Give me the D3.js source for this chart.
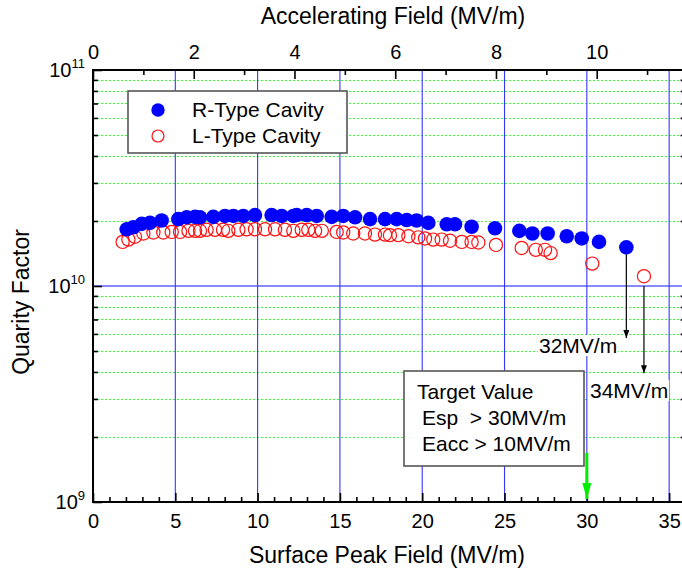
<!DOCTYPE html>
<html>
<head>
<meta charset="utf-8">
<script src="https://cdn.jsdelivr.net/npm/d3@7"></script>
<style>
body { margin: 0; background: #fff; }
text { font-family: "Liberation Sans", Arial, sans-serif; fill: #000; }
</style>
</head>
<body>
<svg id="chart" width="682" height="575"></svg>
<script>
// R-type cavity (filled blue)
var rEsp = [2.05, 2.45, 2.96, 3.46, 4.17, 5.18, 5.69, 6.2, 6.5, 7.31, 8.02, 8.53, 9.13, 9.84, 10.85, 11.46, 12.17, 12.37, 12.98, 13.59, 14.5, 15.2, 15.92, 16.83, 17.74, 18.45, 19.06, 19.66, 20.37, 21.49, 21.99, 23.0, 24.42, 25.9, 26.69, 27.62, 28.78, 29.69, 30.74, 32.4];
var rQ = [1.83e10, 1.87e10, 1.94e10, 1.96e10, 2.01e10, 2.04e10, 2.08e10, 2.09e10, 2.08e10, 2.09e10, 2.11e10, 2.11e10, 2.11e10, 2.13e10, 2.13e10, 2.11e10, 2.11e10, 2.13e10, 2.13e10, 2.11e10, 2.09e10, 2.11e10, 2.08e10, 2.04e10, 2.04e10, 2.04e10, 2.02e10, 2.01e10, 1.96e10, 1.93e10, 1.93e10, 1.88e10, 1.85e10, 1.80e10, 1.75e10, 1.75e10, 1.70e10, 1.66e10, 1.60e10, 1.51e10];

// L-type cavity (open red)
var lEsp = [1.8, 2.15, 2.55, 3.06, 3.67, 4.27, 4.78, 5.29, 5.8, 6.2, 6.5, 6.9, 7.41, 7.9, 8.22, 8.83, 9.33, 9.84, 10.45, 11.06, 11.66, 12.17, 12.68, 13.08, 13.49, 13.9, 14.8, 15.2, 15.81, 16.52, 17.13, 17.74, 18.04, 18.55, 19.16, 19.76, 20.17, 20.67, 21.18, 21.69, 22.4, 23.0, 23.41, 24.48, 26.04, 26.9, 27.46, 27.8, 30.33, 33.47];
var lQ = [1.60e10, 1.64e10, 1.69e10, 1.75e10, 1.77e10, 1.77e10, 1.78e10, 1.78e10, 1.80e10, 1.80e10, 1.80e10, 1.82e10, 1.82e10, 1.82e10, 1.80e10, 1.82e10, 1.83e10, 1.83e10, 1.83e10, 1.83e10, 1.82e10, 1.80e10, 1.82e10, 1.82e10, 1.80e10, 1.80e10, 1.78e10, 1.77e10, 1.75e10, 1.75e10, 1.73e10, 1.73e10, 1.72e10, 1.72e10, 1.70e10, 1.68e10, 1.66e10, 1.64e10, 1.64e10, 1.62e10, 1.60e10, 1.60e10, 1.59e10, 1.55e10, 1.50e10, 1.47e10, 1.47e10, 1.42e10, 1.27e10, 1.11e10];

var espTicks = [0, 5, 10, 15, 20, 25, 30, 35];
var eaccTicks = [0, 2, 4, 6, 8, 10];
var qTicks = [1e9, 1e10, 1e11];
var qExp = ["9", "10", "11"];
var eaccRatio = 3.06;   // Esp / Eacc

var seriesNames = ["R-Type Cavity", "L-Type Cavity"];
var targetLines = ["Target Value", "Esp  > 30MV/m", "Eacc > 10MV/m"];
var limitLabels = ["32MV/m", "34MV/m"];
var limitEsp = [32.4, 33.47];
var limitFrom = [1.40e10, 1.00e10];
var limitTo = [5.74e9, 3.95e9];
var targetEsp = 30;

var svg = d3.select("#chart");

var x = d3.scaleLinear().domain([0, 36]).range([93, 685.6]);
var xTop = d3.scaleLinear().domain([0, 36 / eaccRatio]).range([93, 685.6]);
var y = d3.scaleLog().domain([1e9, 1e11]).range([502, 70]);

var defs = svg.append("defs");
defs.append("marker").attr("id", "headBlack")
    .attr("viewBox", "0 0 10 10").attr("refX", 10).attr("refY", 5)
    .attr("markerUnits", "userSpaceOnUse").attr("markerWidth", 8).attr("markerHeight", 6)
    .attr("preserveAspectRatio", "none").attr("orient", "auto")
  .append("path").attr("d", "M0,0L10,5L0,10Z").attr("fill", "#000");
defs.append("marker").attr("id", "headGreen")
    .attr("viewBox", "0 0 10 10").attr("refX", 10).attr("refY", 5)
    .attr("markerUnits", "userSpaceOnUse").attr("markerWidth", 16).attr("markerHeight", 9)
    .attr("preserveAspectRatio", "none").attr("orient", "auto")
  .append("path").attr("d", "M0,0L10,5L0,10Z").attr("fill", "#00ee00");

// grid
var minorQ = y.ticks().filter(function(d) { return qTicks.indexOf(d) < 0; });
svg.append("g").selectAll("line").data(minorQ).enter().append("line")
    .attr("x1", x(0)).attr("x2", x(36))
    .attr("y1", function(d) { return Math.round(y(d)) + 0.5; })
    .attr("y2", function(d) { return Math.round(y(d)) + 0.5; })
    .style("stroke", "#33ff33").style("stroke-dasharray", "2,2");
svg.append("line")
    .attr("x1", x(0)).attr("x2", x(36)).attr("y1", y(1e10)).attr("y2", y(1e10))
    .style("stroke", "#1515ff").style("stroke-width", 1.2);
svg.append("g").selectAll("line").data(espTicks.slice(1)).enter().append("line")
    .attr("x1", function(d) { return x(d); }).attr("x2", function(d) { return x(d); })
    .attr("y1", y(1e11)).attr("y2", y(1e9))
    .style("stroke", "#3535ff").style("stroke-width", 1.1);

// data
svg.append("g").selectAll("circle").data(lEsp).enter().append("circle")
    .attr("cx", function(d) { return x(d); })
    .attr("cy", function(d, i) { return y(lQ[i]); })
    .attr("r", 6.6)
    .style("fill", "none").style("stroke", "#ff1010").style("stroke-width", 1.2);
svg.append("g").selectAll("circle").data(rEsp).enter().append("circle")
    .attr("cx", function(d) { return x(d); })
    .attr("cy", function(d, i) { return y(rQ[i]); })
    .attr("r", 7.3)
    .style("fill", "#0000ff");

// axes: bottom / top / left / right
function addAxis(axis, tx, ty) {
  var g = svg.append("g").attr("transform", "translate(" + tx + "," + ty + ")").call(axis);
  g.select(".domain").remove();
  g.selectAll(".tick line").style("stroke", "#000").style("stroke-width", 1.6);
  return g;
}
var minorEsp = d3.range(0, 36, 1).filter(function(d) { return d % 5; });
addAxis(d3.axisBottom(x).tickValues(minorEsp).tickSize(-5).tickFormat(""), 0, 502);
var bAx = addAxis(d3.axisBottom(x).tickValues(espTicks).tickSize(-9).tickPadding(12), 0, 502);
bAx.selectAll("text").style("font-size", "20px");

var minorEacc = [1, 3, 5, 7, 9, 11];
addAxis(d3.axisTop(xTop).tickValues(minorEacc).tickSize(-5).tickFormat(""), 0, 70);
var tAx = addAxis(d3.axisTop(xTop).tickValues(eaccTicks).tickSize(-9).tickPadding(11), 0, 70);
tAx.selectAll("text").style("font-size", "20px");

addAxis(d3.axisLeft(y).tickValues(minorQ).tickSize(-5).tickFormat(""), 93, 0);
addAxis(d3.axisLeft(y).tickValues(qTicks).tickSize(-9).tickFormat(""), 93, 0);
addAxis(d3.axisRight(y).tickValues(minorQ).tickSize(-5).tickFormat(""), 685.6, 0);

var qLab = svg.append("g").selectAll("text").data(qTicks).enter().append("text")
    .attr("x", 85).attr("y", function(d) { return y(d) + 7; })
    .attr("text-anchor", "end").style("font-size", "20px");
qLab.append("tspan").text("10");
qLab.append("tspan").attr("dy", -9).style("font-size", "13px")
    .text(function(d, i) { return qExp[i]; });

// frame
svg.append("rect")
    .attr("x", x(0)).attr("y", y(1e11))
    .attr("width", x(36) - x(0)).attr("height", y(1e9) - y(1e11))
    .style("fill", "none").style("stroke", "#000").style("stroke-width", 2);

// axis titles
svg.append("text").attr("x", 393).attr("y", 24).attr("text-anchor", "middle")
    .style("font-size", "23px").text("Accelerating Field (MV/m)");
svg.append("text").attr("x", 387).attr("y", 563).attr("text-anchor", "middle")
    .style("font-size", "23px").text("Surface Peak Field (MV/m)");
svg.append("text").attr("transform", "translate(29,302) rotate(-90)")
    .attr("text-anchor", "middle").style("font-size", "23px").text("Quarity Factor");

// legend
var leg = svg.append("g");
leg.append("rect").attr("x", 128).attr("y", 91).attr("width", 219).attr("height", 62)
    .style("fill", "#fff").style("stroke", "#555").style("stroke-width", 1.6);
leg.append("circle").attr("cx", 158).attr("cy", 110).attr("r", 6.7).style("fill", "#0000ff");
leg.append("circle").attr("cx", 158).attr("cy", 136).attr("r", 6).style("fill", "none")
    .style("stroke", "#ff1010").style("stroke-width", 1.2);
leg.selectAll("text.lg").data(seriesNames).enter().append("text").attr("class", "lg")
    .attr("x", 192).attr("y", function(d, i) { return 117 + i * 26; })
    .style("font-size", "21px").text(function(d) { return d; });

// target box
svg.append("rect").attr("x", 404).attr("y", 371).attr("width", 180).attr("height", 95)
    .style("fill", "#fff").style("stroke", "#555").style("stroke-width", 1.6);
svg.selectAll("text.tg").data(targetLines).enter().append("text").attr("class", "tg")
    .attr("x", function(d, i) { return i ? 422 : 417; })
    .attr("y", function(d, i) { return 399 + i * 26; })
    .attr("xml:space", "preserve")
    .style("white-space", "pre").style("font-size", "21px").text(function(d) { return d; });

// limit arrows and labels
svg.selectAll("line.lim").data(limitEsp).enter().append("line").attr("class", "lim")
    .attr("x1", function(d) { return x(d); }).attr("x2", function(d) { return x(d); })
    .attr("y1", function(d, i) { return y(limitFrom[i]); })
    .attr("y2", function(d, i) { return y(limitTo[i]); })
    .style("stroke", "#000").style("stroke-width", 1.2)
    .attr("marker-end", "url(#headBlack)");

var limPos = [[539, 353], [590, 398]];
limitLabels.forEach(function(t, i) {
  var tx = svg.append("text").attr("x", limPos[i][0]).attr("y", limPos[i][1])
      .style("font-size", "21px").text(t);
  var bb = tx.node().getBBox();
  svg.insert("rect", function() { return tx.node(); })
      .attr("x", bb.x - 1).attr("y", bb.y + 1).attr("width", bb.width + 2).attr("height", bb.height - 2)
      .style("fill", "#fff");
});

// target arrow
svg.append("line")
    .attr("x1", x(targetEsp)).attr("x2", x(targetEsp))
    .attr("y1", y(1.69e9)).attr("y2", y(1.0e9) - 3)
    .style("stroke", "#00ee00").style("stroke-width", 3)
    .attr("marker-end", "url(#headGreen)");
</script>
</body>
</html>
